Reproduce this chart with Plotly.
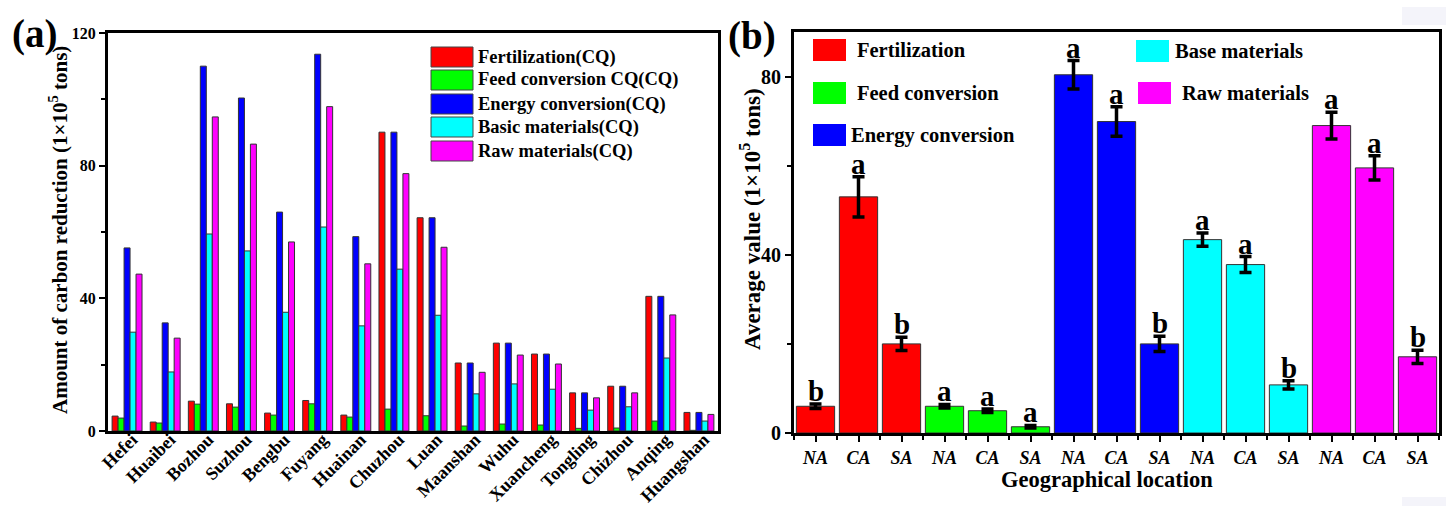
import plotly.graph_objects as go

# ---------------- data: panel (a) ----------------
cities = ["Hefei", "Huaibei", "Bozhou", "Suzhou", "Bengbu", "Fuyang", "Huainan", "Chuzhou",
          "Luan", "Maanshan", "Wuhu", "Xuancheng", "Tongling", "Chizhou", "Anqing", "Huangshan"]
fertilization = [4.5, 2.7, 9.0, 8.2, 5.4, 9.2, 4.8, 90.1, 64.3, 20.5, 26.5, 23.2, 11.5, 13.5, 40.6, 5.6]
feed_conv = [3.9, 2.4, 8.1, 7.2, 4.8, 8.2, 4.2, 6.6, 4.6, 1.5, 2.1, 1.8, 0.8, 0.9, 3.0, 0.2]
energy_conv = [55.2, 32.6, 110.0, 100.4, 66.0, 113.6, 58.6, 90.1, 64.3, 20.5, 26.5, 23.2, 11.5, 13.5, 40.6, 5.6]
basic_mat = [29.8, 17.8, 59.4, 54.3, 35.8, 61.5, 31.7, 48.8, 34.9, 11.2, 14.2, 12.6, 6.3, 7.3, 22.0, 3.0]
raw_mat = [47.3, 28.0, 94.7, 86.5, 57.0, 97.8, 50.4, 77.6, 55.4, 17.7, 22.9, 20.2, 10.0, 11.5, 35.0, 5.0]
a_names = ["Fertilization(CQ)", "Feed conversion CQ(CQ)", "Energy conversion(CQ)",
           "Basic materials(CQ)", "Raw materials(CQ)"]

# ---------------- data: panel (b) ----------------
regions = ["NA", "CA", "SA"]
b_names = ["Fertilization", "Feed conversion", "Energy conversion", "Base materials", "Raw materials"]
b_means = [[6.0, 53.0, 20.0], [6.0, 5.0, 1.4], [80.4, 69.9, 20.0], [43.4, 37.8, 10.8], [69.0, 59.5, 17.1]]
b_errs = [[0.5, 4.5, 1.5], [0.4, 0.4, 0.3], [3.2, 3.3, 1.7], [1.5, 1.8, 0.9], [3.0, 2.7, 1.5]]
b_letters = [["b", "a", "b"], ["a", "a", "a"], ["a", "a", "b"], ["a", "a", "b"], ["a", "a", "b"]]

colors = ["#ff0000", "#00ff00", "#0000ff", "#00ffff", "#ff00ff"]

W, H = 1448, 506
FONT = "Times New Roman, Liberation Serif, serif"

def px(x):
    return x / W

def py(y):
    return 1 - y / H

def bfont(size, **kw):
    return dict(family=FONT, size=size, color="black", weight="bold", **kw)

def label(x, y, text, size, xanchor="center", yanchor="middle", **kw):
    return dict(x=px(x), y=py(y), xref="paper", yref="paper", text=text, showarrow=False,
                xanchor=xanchor, yanchor=yanchor, font=bfont(size), **kw)

fig = go.Figure()

a_series = [fertilization, feed_conv, energy_conv, basic_mat, raw_mat]
for name, vals, col in zip(a_names, a_series, colors):
    fig.add_trace(go.Bar(x=cities, y=vals, name=name, marker=dict(color=col, line=dict(color="#333333", width=1)),
                         xaxis="x", yaxis="y", showlegend=False))

annotations = []
shapes = []
for i, (name, means, errs, letters, col) in enumerate(zip(b_names, b_means, b_errs, b_letters, colors)):
    xs = [i * len(regions) + j for j in range(len(regions))]
    fig.add_trace(go.Bar(x=xs, y=means, name=name, width=0.89, offsetgroup="b",
                         marker=dict(color=col, line=dict(color="#333333", width=1)),
                         error_y=dict(type="data", array=errs, color="black", thickness=3.5, width=6),
                         xaxis="x2", yaxis="y2", showlegend=False))
    for x, m, e, L in zip(xs, means, errs, letters):
        annotations.append(dict(x=x, y=m + e, xref="x2", yref="y2", text=L, showarrow=False,
                                xanchor="center", yanchor="bottom", yshift=-5, font=bfont(29)))

# legend (a)
leg_a_y = [57, 80, 104, 127, 151]
for name, col, yc in zip(a_names, colors, leg_a_y):
    shapes.append(dict(type="rect", xref="paper", yref="paper", x0=px(431), x1=px(473),
                       y0=py(yc + 10), y1=py(yc - 10), fillcolor=col, line=dict(color="#444444", width=1)))
    annotations.append(label(476, yc, name, 18.5, xanchor="left"))

# legend (b)
leg_b = [(813, 50, 855), (813, 93, 855), (813, 135, 849), (1136, 51, 1173), (1138, 93, 1180)]
for name, col, (x0, yc, tx) in zip(b_names, colors, leg_b):
    shapes.append(dict(type="rect", xref="paper", yref="paper", x0=px(x0), x1=px(x0 + 33),
                       y0=py(yc + 11), y1=py(yc - 11), fillcolor=col, line=dict(color=col, width=0)))
    annotations.append(label(tx, yc, name, 20.5, xanchor="left"))

# panel labels and titles
annotations += [
    label(34, 34, "(a)", 39),
    label(752, 36, "(b)", 39),
    label(58, 230, "Amount of carbon reduction (1×10<sup>5</sup> tons)", 21, textangle=-90),
    label(751, 219, "Average value (1×10<sup>5</sup> tons)", 23, textangle=-90),
    label(1107, 479, "Geographical location", 22.5),
]

# faint artifacts at the right edge
shapes.append(dict(type="rect", xref="paper", yref="paper", x0=px(1402), x1=px(1446), y0=py(25), y1=py(7),
                   fillcolor="#f4f4fa", line=dict(width=0), layer="below"))
shapes.append(dict(type="rect", xref="paper", yref="paper", x0=px(1402), x1=px(1446), y0=py(506), y1=py(497),
                   fillcolor="#f4f4fa", line=dict(width=0), layer="below"))

n_b = len(b_names) * len(regions)
tick_style = dict(ticks="outside", ticklen=6, tickwidth=2, tickcolor="black")
minor_style = dict(ticks="outside", ticklen=4, tickwidth=2, tickcolor="black")

fig.update_layout(
    width=W, height=H, margin=dict(l=0, r=0, t=0, b=0),
    paper_bgcolor="white", plot_bgcolor="white",
    barmode="group", bargap=0.215, bargroupgap=0,
    xaxis=dict(domain=[px(108), px(718)], range=[-0.5, 15.5], showline=True, linecolor="black", linewidth=3,
               mirror=True, ticks="", tickangle=-45, tickfont=bfont(18), showgrid=False, anchor="y",
               ticklabelstandoff=-12, ticklabelshift=5, automargin=False),
    yaxis=dict(domain=[py(431), py(33)], range=[0, 120], showline=True, linecolor="black", linewidth=3,
               mirror=True, dtick=40, tickfont=bfont(16), minor=dict(dtick=20, **minor_style),
               showgrid=False, zeroline=False, anchor="x", automargin=False, **tick_style),
    xaxis2=dict(domain=[px(794), px(1439)], range=[-0.5, n_b - 0.5], showline=True, linecolor="black",
                linewidth=3, mirror=True, tickmode="array", tickvals=list(range(n_b)),
                ticktext=regions * len(b_names), tickfont=bfont(18, style="italic"),
                minor=dict(tickmode="linear", tick0=-0.5, dtick=1, **minor_style),
                showgrid=False, zeroline=False, anchor="y2", automargin=False, **tick_style),
    yaxis2=dict(domain=[py(433), py(32)], range=[0, 90], showline=True, linecolor="black", linewidth=3,
                mirror=True, dtick=40, tickfont=bfont(20), minor=dict(dtick=20, **minor_style),
                showgrid=False, zeroline=False, anchor="x2", automargin=False, **tick_style),
    annotations=annotations, shapes=shapes,
)

fig.write_html("out.html")
